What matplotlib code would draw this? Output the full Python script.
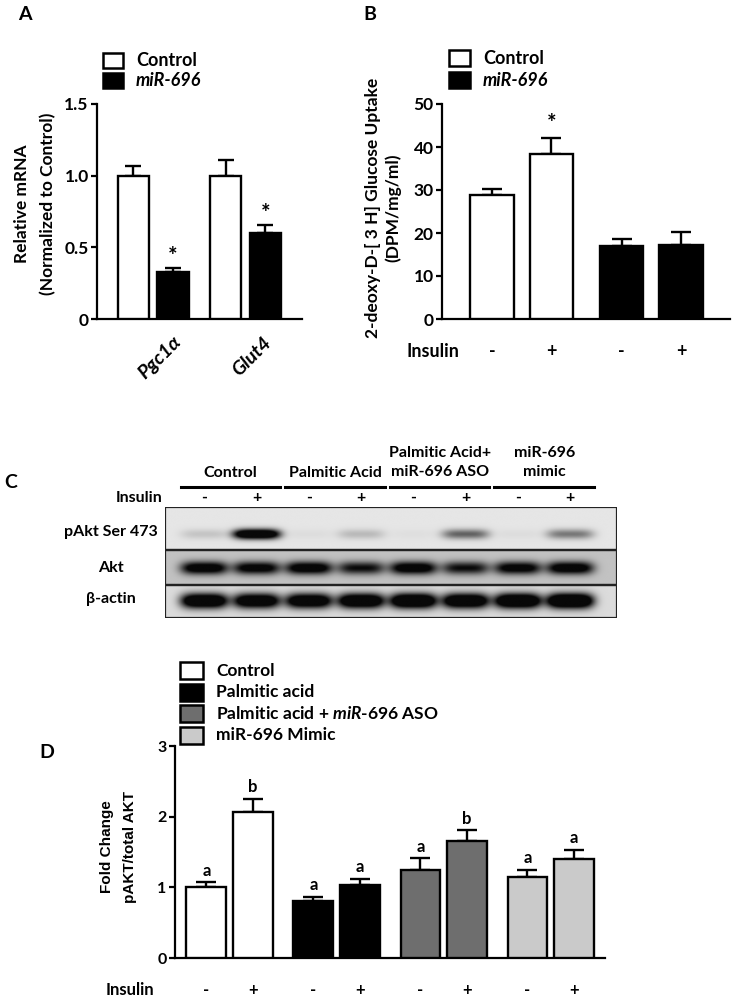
import numpy as np
import matplotlib
matplotlib.use('Agg')
import matplotlib.pyplot as plt
from matplotlib.patches import Rectangle
from matplotlib.transforms import blended_transform_factory

plt.rcParams['font.family'] = ['Lato', 'DejaVu Sans']
plt.rcParams['font.weight'] = 'bold'
plt.rcParams['mathtext.fontset'] = 'custom'
plt.rcParams['mathtext.it'] = 'Lato:italic:bold'
plt.rcParams['mathtext.rm'] = 'Lato:bold'

W, H = 733, 999

# ---- panel A: relative mRNA
a_genes = ['Pgc1α', 'Glut4']
a_control = [1.00, 1.00]
a_control_err = [0.07, 0.11]
a_mir = [0.33, 0.60]
a_mir_err = [0.025, 0.055]

# ---- panel B: glucose uptake
b_insulin = ['-', '+', '-', '+']
b_control = [28.8, 38.3]
b_control_err = [1.5, 3.7]
b_mir = [17.0, 17.3]
b_mir_err = [1.7, 2.9]

# ---- panel C: western blot (band intensity, 0-1+)
c_groups = ['Control', 'Palmitic Acid', 'Palmitic Acid+\nmiR-696 ASO', 'miR-696\nmimic']
c_insulin = ['-', '+', '-', '+', '-', '+', '-', '+']
c_rows = ['pAkt Ser 473', 'Akt', 'β-actin']
c_pakt = [0.15, 1.6, 0.04, 0.2, 0.03, 0.6, 0.04, 0.5]
c_akt = [1.3, 1.2, 1.3, 1.0, 1.3, 1.0, 1.2, 1.3]
c_actin = [1.6, 1.5, 1.5, 1.6, 1.7, 1.6, 1.7, 1.8]

# ---- panel D: pAKT / total AKT
d_groups = ['Control', 'Palmitic acid', 'Palmitic acid + $miR$-$696$ ASO', 'miR-696 Mimic']
d_colors = ['white', 'black', '#6e6e6e', '#cacaca']
d_minus = [1.01, 0.81, 1.25, 1.14]
d_minus_err = [0.06, 0.06, 0.16, 0.11]
d_plus = [2.06, 1.04, 1.65, 1.40]
d_plus_err = [0.19, 0.08, 0.16, 0.13]
d_minus_sig = ['a', 'a', 'a', 'a']
d_plus_sig = ['b', 'a', 'b', 'a']
d_insulin = ['-', '+'] * 4


def fx(px):
    return px / W


def fy(py):
    return 1 - py / H


def style_axes(ax):
    for s in ['top', 'right']:
        ax.spines[s].set_visible(False)
    for s in ['left', 'bottom']:
        ax.spines[s].set_linewidth(1.6)
    ax.tick_params(axis='y', direction='out', length=4, width=1.6, pad=2)
    ax.set_xticks([])


def bars(ax, x, y, err, color, width, capsize=7):
    ax.bar(x, y, width=width, color=color, edgecolor='black', linewidth=1.7, zorder=3)
    ax.errorbar(x, y, yerr=[np.zeros(len(y)), err], fmt='none', ecolor='black',
                elinewidth=1.7, capsize=capsize, capthick=1.7, zorder=2)


def legend(x0, y0, labels, colors, bw, bh, step, fs, styles=None):
    for i, (lab, col) in enumerate(zip(labels, colors)):
        yt = y0 + i * step
        fig.patches.append(Rectangle((fx(x0), fy(yt + bh)), bw / W, bh / H, facecolor=col,
                                     edgecolor='black', linewidth=1.8, transform=fig.transFigure))
        st = styles[i] if styles else 'normal'
        fig.text(fx(x0 + bw + 13), fy(yt + bh / 2), lab, fontsize=fs, fontstyle=st,
                 fontweight='bold', va='center', ha='left')


fig = plt.figure(figsize=(W / 100, H / 100), dpi=100)

# ================= A
axA = fig.add_axes([fx(97), fy(319), 205 / W, 215 / H])
gA = np.array([1.7, 4.5])
bars(axA, gA - 0.6, a_control, a_control_err, 'white', 0.95, 6)
bars(axA, gA + 0.6, a_mir, a_mir_err, 'black', 0.95, 6)
axA.set_xlim(0, 205 / 33)
axA.set_ylim(0, 1.5)
axA.set_yticks([0, 0.5, 1.0, 1.5])
axA.set_yticklabels(['0', '0.5', '1.0', '1.5'], fontsize=12.5)
style_axes(axA)
for xx, yy, ee in zip(gA + 0.6, a_mir, a_mir_err):
    axA.text(xx, yy + ee + 0.005, '*', ha='center', va='bottom', fontsize=16)
trA = blended_transform_factory(axA.transData, axA.transAxes)
for xx, lab in zip(gA, a_genes):
    axA.text(xx + 0.2, -0.177, lab, transform=trA, rotation=45, ha='center', va='center',
             rotation_mode='anchor', fontsize=14, fontstyle='italic')
fig.text(fx(22), fy(204), 'Relative mRNA', rotation=90, ha='center', va='center', fontsize=12.5)
fig.text(fx(48), fy(204), '(Normalized to Control)', rotation=90, ha='center', va='center', fontsize=12.5)
legend(103, 53, ['Control', 'miR-696'], ['white', 'black'], 20, 15, 20, 13, ['normal', 'italic'])
fig.text(fx(25), fy(15), 'A', fontsize=14, ha='center', va='center')

# ================= B
axB = fig.add_axes([fx(442), fy(319), 288 / W, 215 / H])
gB = np.array([1.77, 4.65])
bars(axB, gB - 0.66, [b_control[0], b_mir[0]], [b_control_err[0], b_mir_err[0]], ['white', 'black'], 0.97)
bars(axB, gB + 0.66, [b_control[1], b_mir[1]], [b_control_err[1], b_mir_err[1]], ['white', 'black'], 0.97)
axB.set_xlim(0, 288 / 45)
axB.set_ylim(0, 50)
axB.set_yticks(np.arange(0, 51, 10))
axB.tick_params(axis='y', labelsize=12.5)
style_axes(axB)
axB.text(gB[0] + 0.66, b_control[1] + b_control_err[1] + 1.0, '*', ha='center', va='bottom', fontsize=16)
trB = blended_transform_factory(axB.transData, axB.transAxes)
xB = np.sort(np.concatenate([gB - 0.66, gB + 0.66]))
for xx, s in zip(xB, b_insulin):
    axB.text(xx, -0.153, s, transform=trB, ha='center', va='center', fontsize=13)
axB.text(-0.2, -0.153, 'Insulin', transform=trB, ha='center', va='center', fontsize=13)
fig.text(fx(373), fy(208), '2-deoxy-D-[ 3 H] Glucose Uptake', rotation=90, ha='center', va='center', fontsize=12.5)
fig.text(fx(393), fy(208), '(DPM/mg/ml)', rotation=90, ha='center', va='center', fontsize=12.5)
legend(449, 50, ['Control', 'miR-696'], ['white', 'black'], 21, 16, 22, 13, ['normal', 'italic'])
fig.text(fx(370), fy(15), 'B', fontsize=14, ha='center', va='center')

# ================= C
blot_w = 452 / 52.3
axC = fig.add_axes([fx(165), fy(618), 452 / W, 111 / H])
lane_x = 0.75 + np.arange(8)
xs = np.linspace(0, blot_w, 900)
ys = np.linspace(0, 111, 260)
X, Y = np.meshgrid(xs, ys)
img = np.ones_like(X)
rows = [(0, 43, 27, 5.0, 0.90, c_pakt), (43, 78, 61, 6.5, 0.76, c_akt), (78, 111, 94, 7.5, 0.86, c_actin)]
for top, bot, yc, hh, bg, vals in rows:
    m = (Y >= top) & (Y <= bot)
    dark = np.zeros_like(X)
    for xc, v in zip(lane_x, vals):
        dark += v * np.exp(-((X - xc) / 0.45) ** 4) * np.exp(-((Y - yc) / hh) ** 2)
    img[m] = (bg * (1 - 0.96 * np.clip(dark, 0, 1)))[m]
axC.imshow(img, cmap='gray', vmin=0, vmax=1, extent=(0, blot_w, 111, 0), aspect='auto',
           interpolation='bilinear')
for top, bot, *_ in rows:
    axC.add_patch(Rectangle((0, top), blot_w, bot - top, fill=False, linewidth=1.6, edgecolor='#222222'))
axC.set_xlim(0, blot_w)
axC.set_ylim(111, 0)
axC.axis('off')
for xx, s in zip(lane_x, c_insulin):
    axC.text(xx, -9, s, ha='center', va='center', fontsize=11.5, clip_on=False)
axC.text(-0.05, -9, 'Insulin', ha='right', va='center', fontsize=11.5, clip_on=False)
for g, lab in enumerate(c_groups):
    gc = 1.25 + 2 * g
    axC.plot([gc - 0.95, gc + 0.95], [-20, -20], color='black', linewidth=2.2, clip_on=False)
    yl = -34 if '\n' not in lab else -44.5
    axC.text(gc, yl, lab, ha='center', va='center', fontsize=11.5, linespacing=1.45, clip_on=False)
for lab, yy in zip(c_rows, [532, 568, 599]):
    fig.text(fx(111), fy(yy), lab, ha='center', va='center', fontsize=11.5)
fig.text(fx(11), fy(483), 'C', fontsize=14, ha='center', va='center')

# ================= D
axD = fig.add_axes([fx(175), fy(958), 430 / W, 212 / H])
gD = 1.33 + 2.61 * np.arange(4)
bars(axD, gD - 0.565, d_minus, d_minus_err, d_colors, 0.97)
bars(axD, gD + 0.565, d_plus, d_plus_err, d_colors, 0.97)
axD.set_xlim(0, 430 / 41)
axD.set_ylim(0, 3)
axD.set_yticks([0, 1, 2, 3])
axD.tick_params(axis='y', labelsize=11.5)
style_axes(axD)
for xs_, ys_, es_, ss_ in [(gD - 0.565, d_minus, d_minus_err, d_minus_sig),
                           (gD + 0.565, d_plus, d_plus_err, d_plus_sig)]:
    for xx, yy, ee, ss in zip(xs_, ys_, es_, ss_):
        axD.text(xx, yy + ee + 0.05, ss, ha='center', va='bottom', fontsize=12)
trD = blended_transform_factory(axD.transData, axD.transAxes)
xD = np.sort(np.concatenate([gD - 0.565, gD + 0.565]))
for xx, s in zip(xD, d_insulin):
    axD.text(xx, -0.151, s, transform=trD, ha='center', va='center', fontsize=12)
axD.text(-1.1, -0.151, 'Insulin', transform=trD, ha='center', va='center', fontsize=12)
fig.text(fx(107), fy(847), 'Fold Change', rotation=90, ha='center', va='center', fontsize=11,
         family='Liberation Sans')
fig.text(fx(130), fy(847), 'pAKT/total AKT', rotation=90, ha='center', va='center', fontsize=11,
         family='Liberation Sans')
legend(180, 662, d_groups, d_colors, 23, 17, 21.5, 12.5)
fig.text(fx(47), fy(753), 'D', fontsize=14, ha='center', va='center')

fig.savefig('out.png', dpi=100, facecolor='white')
